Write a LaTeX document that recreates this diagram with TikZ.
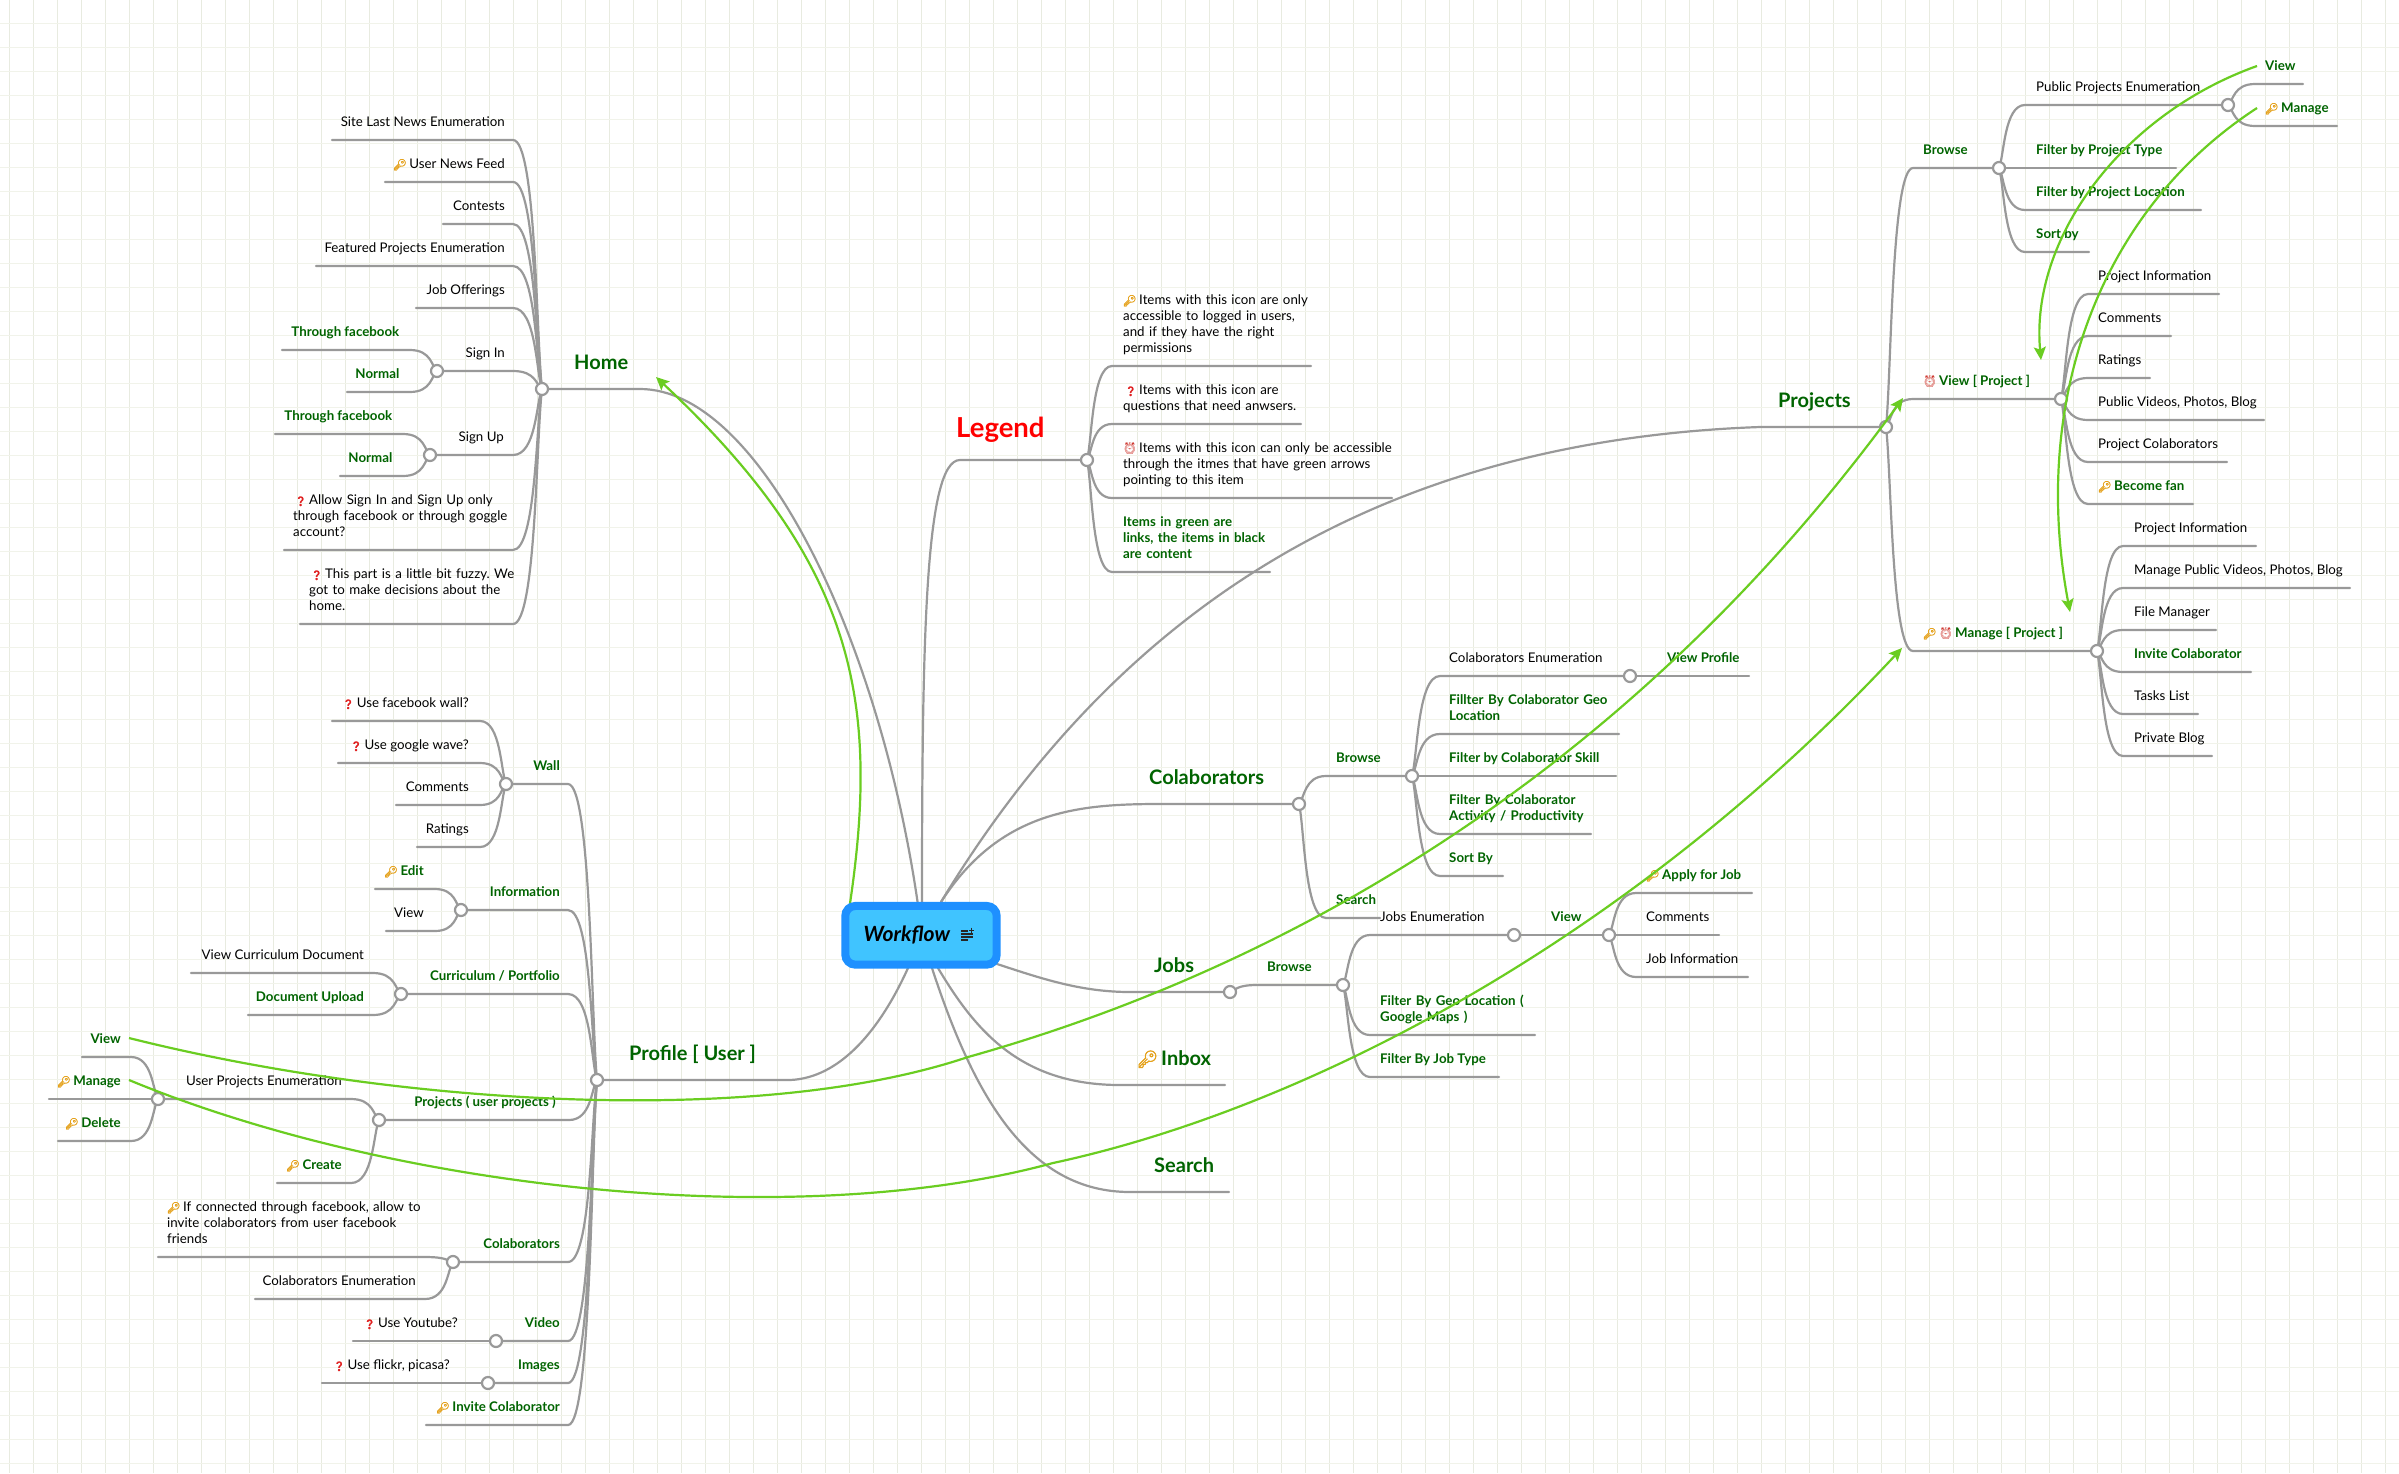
\documentclass[tikz,border=0pt]{standalone}
\usepackage{fontspec}
\setmainfont{Lato}
\newfontfamily\emo[FakeBold=2.2]{Noto Emoji}
\newfontfamily\emoq[FakeBold=1.6]{Noto Emoji}
\newfontfamily\emoc{Noto Emoji}
\usetikzlibrary{arrows.meta,calc}
\frenchspacing
\definecolor{gv}{HTML}{E8EBE0}
\definecolor{gh}{HTML}{F1F3EA}
\definecolor{lineg}{HTML}{999999}
\definecolor{txtg}{HTML}{006400}
\definecolor{arrg}{HTML}{6ACD21}
\definecolor{rootb}{HTML}{1E90FF}
\definecolor{rootf}{HTML}{40C4FF}
\definecolor{keyc}{HTML}{E5A11A}
\definecolor{qc}{HTML}{E02020}
\definecolor{clk}{HTML}{CF3A32}
\newcommand\keyi{\makebox[16pt][l]{\hspace{-0.5pt}\fontsize{11}{16}\selectfont\emo\textcolor{keyc}{🔑}}}
\newcommand\keyb{\makebox[24pt][l]{\hspace{-0.5pt}\fontsize{17}{24}\selectfont\emo\textcolor{keyc}{🔑}}}
\newcommand\qi{\makebox[16pt][l]{\hspace{1.5pt}\fontsize{9.5}{16}\selectfont\emoq\textcolor{qc}{❓}}}
\newcommand\clki{\makebox[16pt][l]{\hspace{-0.5pt}\fontsize{11.5}{16}\selectfont\emoc\textcolor{clk}{⏰}}}
\pgfdeclarelayer{gridl}
\pgfdeclarelayer{bg}
\pgfsetlayers{gridl,bg,main}
\tikzset{
 x=1pt,y=-1pt,
 branch/.style={draw=lineg,line width=2.2pt,line cap=round},
 junc/.style={circle,draw=lineg,fill=white,line width=2.2pt,minimum size=12pt,inner sep=0pt},
 base/.style={inner sep=0pt,font=\fontsize{13.3}{16}\selectfont,text=black},
 bl/.style={base,anchor=base west},
 br/.style={base,anchor=base east},
 gl/.style={bl,text=txtg,font=\fontsize{13.3}{16}\selectfont\bfseries},
 gr/.style={br,text=txtg,font=\fontsize{13.3}{16}\selectfont\bfseries},
 ml/.style={text width=#1pt,align=left},
 hd/.style={inner sep=0pt,anchor=base west,text=txtg,font=\fontsize{20}{24}\selectfont\bfseries},
 link/.style={draw=arrg,line width=2.2pt,-{Stealth[length=13pt,width=12pt,inset=2.5pt]}},
 root/.style={draw=rootb,fill=rootf,line width=8pt,rounded corners=10pt,minimum width=151.4pt,minimum height=58.7pt,inner sep=0pt,text width=115pt,align=left,font=\fontsize{21}{24}\selectfont\bfseries\itshape}
}
\newcommand\br[3]{\begin{pgfonlayer}{bg}\draw[branch] let \p1=(#1.center), \p2=(#2), \n1={#3pt+.8*(\x1-#3pt)}, \n2={\y1+.2*(\y2-\y1)} in (#2) -- (#3pt,\y2) .. controls (\n1,\y2) and (\n1,\n2) .. (#1.center);\end{pgfonlayer}}
\newcommand\kid[8]{\coordinate (#2-f) at (#3,#5); \node[#7] (#2) at (#6,#5-13.5) {#8}; \br{#1}{#2-f}{#4}}
\newcommand\jn[3]{\node[junc] (#1) at (#2,#3) {};}
\begin{document}
\begin{tikzpicture}
\useasboundingbox (0,0) rectangle (2399,1473);
\begin{pgfonlayer}{gridl}
\fill[white] (0,0) rectangle (2399,1473);
\foreach \k in {0,...,99} \draw[gv,line width=1pt] ({9.5+24*\k},0) -- ({9.5+24*\k},1473);
\foreach \k in {0,...,60} \draw[gh,line width=1pt] (0,{23.5+24*\k}) -- (2399,{23.5+24*\k});
\end{pgfonlayer}

% junctions
\jn{H}{542}{389} \jn{Hin}{437}{371} \jn{Hup}{430}{455}
\jn{L}{1087}{460}
\jn{P}{1886}{427} \jn{Pb}{1999}{168} \jn{Pbe}{2228}{105} \jn{Pv}{2061}{399} \jn{Pm}{2097}{651}
\jn{C}{1299}{804} \jn{Cb}{1412}{776} \jn{Ce}{1630}{676}
\jn{J}{1230}{992} \jn{Jb}{1343}{985} \jn{Je}{1514}{935} \jn{Jv}{1609}{935}
\jn{R}{597}{1080} \jn{Rw}{506}{784} \jn{Ri}{461}{910} \jn{Rc}{401}{994} \jn{Rp}{379}{1120} \jn{Rpe}{158}{1099}
\jn{Rco}{453}{1262} \jn{Rv}{496}{1341} \jn{Rim}{488}{1383}

% HOME
\node[hd] (tHome) at (574,369) {Home};
\kid{H}{h1}{332}{513}{140}{505}{br}{Site Last News Enumeration}
\kid{H}{h2}{385}{513}{182}{505}{br}{\keyi User News Feed}
\kid{H}{h3}{443}{513}{224}{505}{br}{Contests}
\kid{H}{h4}{316}{513}{266}{505}{br}{Featured Projects Enumeration}
\kid{H}{h5}{416}{513}{308}{505}{br}{Job Offerings}
\node[br] (hin) at (505,357.5) {Sign In};
\br{H}{Hin}{513}
\kid{Hin}{hi1}{282}{410}{350}{399.5}{gr}{Through facebook}
\kid{Hin}{hi2}{347}{410}{392}{399.5}{gr}{Normal}
\node[br] (hup) at (504,441.5) {Sign Up};
\br{H}{Hup}{513}
\kid{Hup}{hu1}{275}{403}{434}{392.5}{gr}{Through facebook}
\kid{Hup}{hu2}{340}{403}{476}{392.5}{gr}{Normal}
\kid{H}{h6}{284}{513}{550}{293}{bl,ml=240,yshift=32pt}{\qi Allow Sign In and Sign Up only\\through facebook or through goggle\\account?}
\kid{H}{h7}{300}{513}{624}{309}{bl,ml=240,yshift=32pt}{\qi This part is a little bit fuzzy. We\\got to make decisions about the\\home.}

% LEGEND
\node[hd,text=red,font=\fontsize{27.5}{30}\selectfont\bfseries] (tLegend) at (956,437) {Legend};
\kid{L}{l1}{1311}{1112}{366}{1123}{bl,ml=240,yshift=48pt}{\keyi Items with this icon are only\\accessible to logged in users,\\and if they have the right\\permissions}
\kid{L}{l2}{1301}{1112}{424}{1123}{bl,ml=240,yshift=16pt}{\qi Items with this icon are\\questions that need anwsers.}
\kid{L}{l3}{1392}{1112}{498}{1123}{bl,ml=300,yshift=32pt}{\clki Items with this icon can only be accessible\\through the itmes that have green arrows\\pointing to this item}
\kid{L}{l4}{1270}{1112}{572}{1123}{gl,ml=200,yshift=32pt}{Items in green are\\links, the items in black\\are content}

% PROJECTS
\node[hd] (tProjects) at (1778,407) {Projects};
\node[gl] (pb) at (1923,154.5) {Browse};
\br{P}{Pb}{1913}
\br{Pb}{Pbe}{2025}
\node[bl] (pbe) at (2036,91.5) {Public Projects Enumeration};
\kid{Pbe}{pe1}{2303}{2255}{84}{2265}{gl}{View}
\kid{Pbe}{pe2}{2337}{2255}{126}{2265}{gl}{\keyi Manage}
\kid{Pb}{pb2}{2176}{2025}{168}{2036}{gl}{Filter by Project Type}
\kid{Pb}{pb3}{2201}{2025}{210}{2036}{gl}{Filter by Project Location}
\kid{Pb}{pb4}{2089}{2025}{252}{2036}{gl}{Sort by}
\node[gl] (pv) at (1923,385.5) {\clki View [ Project ]};
\br{P}{Pv}{1913}
\kid{Pv}{pv1}{2219}{2088}{294}{2098}{bl}{Project Information}
\kid{Pv}{pv2}{2171}{2088}{336}{2098}{bl}{Comments}
\kid{Pv}{pv3}{2150}{2088}{378}{2098}{bl}{Ratings}
\kid{Pv}{pv4}{2264}{2088}{420}{2098}{bl}{Public Videos, Photos, Blog}
\kid{Pv}{pv5}{2227}{2088}{462}{2098}{bl}{Project Colaborators}
\kid{Pv}{pv6}{2193}{2088}{504}{2098}{gl}{\keyi Become fan}
\node[gl] (pm) at (1923,637.5) {\keyi\clki Manage [ Project ]};
\br{P}{Pm}{1913}
\kid{Pm}{pm1}{2256}{2123}{546}{2134}{bl}{Project Information}
\kid{Pm}{pm2}{2350}{2123}{588}{2134}{bl}{Manage Public Videos, Photos, Blog}
\kid{Pm}{pm3}{2216}{2123}{630}{2134}{bl}{File Manager}
\kid{Pm}{pm4}{2251}{2123}{672}{2134}{gl}{Invite Colaborator}
\kid{Pm}{pm5}{2198}{2123}{714}{2134}{bl}{Tasks List}
\kid{Pm}{pm6}{2212}{2123}{756}{2134}{bl}{Private Blog}

% COLABORATORS
\node[hd] (tColab) at (1149,784) {Colaborators};
\node[gl] (cb) at (1336,762.5) {Browse};
\br{C}{Cb}{1326}
\kid{C}{cs}{1380}{1326}{918}{1336}{gl}{Search}
\br{Cb}{Ce}{1440}
\node[bl] (ce) at (1449,662.5) {Colaborators Enumeration};
\coordinate (cef) at (1749,676);
\node[gl] (cvp) at (1667,662.5) {View Profile};
\begin{pgfonlayer}{bg}\draw[branch] (Ce) -- (cef);\end{pgfonlayer}
\kid{Cb}{cb2}{1619}{1440}{734}{1449}{gl,ml=170,yshift=16pt}{Fillter By Colaborator Geo\\Location}
\kid{Cb}{cb3}{1616}{1440}{776}{1449}{gl}{Filter by Colaborator Skill}
\kid{Cb}{cb4}{1591}{1440}{834}{1449}{gl,ml=170,yshift=16pt}{Filter By Colaborator\\Activity / Productivity}
\kid{Cb}{cb5}{1503}{1440}{876}{1449}{gl}{Sort By}

% JOBS
\node[hd] (tJobs) at (1154,972) {Jobs};
\node[gl] (jb) at (1267,971.5) {Browse};
\br{J}{Jb}{1257}
\br{Jb}{Je}{1370}
\node[bl] (je) at (1380,921.5) {Jobs Enumeration};
\node[gl] (jv) at (1551,921.5) {View};
\begin{pgfonlayer}{bg}\draw[branch] (Je) -- (Jv);\end{pgfonlayer}
\kid{Jv}{jv1}{1752}{1636}{893}{1646}{gl}{\keyi Apply for Job}
\kid{Jv}{jv2}{1719}{1636}{935}{1646}{bl}{Comments}
\kid{Jv}{jv3}{1748}{1636}{977}{1646}{bl}{Job Information}
\kid{Jb}{jb2}{1535}{1370}{1035}{1380}{gl,ml=170,yshift=16pt}{Filter By Geo Location (\\Google Maps )}
\kid{Jb}{jb3}{1499}{1370}{1077}{1380}{gl}{Filter By Job Type}

% INBOX, SEARCH
\node[hd] (tInbox) at (1137,1065) {\keyb Inbox};
\coordinate (ibf) at (1225,1085);
\node[hd] (tSearch) at (1154,1172) {Search};
\coordinate (sef) at (1229,1192);

% PROFILE
\node[hd] (tProfile) at (629,1060) {Profile [ User ]};
\node[gr] (rw) at (560,770.5) {Wall};
\br{R}{Rw}{568}
\kid{Rw}{w1}{332}{480}{721}{469}{br}{\qi Use facebook wall?}
\kid{Rw}{w2}{338}{480}{763}{469}{br}{\qi Use google wave?}
\kid{Rw}{w3}{396}{480}{805}{469}{br}{Comments}
\kid{Rw}{w4}{417}{480}{847}{469}{br}{Ratings}
\node[gr] (ri) at (560,896.5) {Information};
\br{R}{Ri}{568}
\kid{Ri}{i1}{375}{435}{889}{424}{gr}{\keyi Edit}
\kid{Ri}{i2}{386}{435}{931}{424}{br}{View}
\node[gr] (rc) at (560,980.5) {Curriculum / Portfolio};
\br{R}{Rc}{568}
\kid{Rc}{c1}{191}{373}{973}{364}{br}{View Curriculum Document}
\kid{Rc}{c2}{248}{373}{1015}{364}{gr}{Document Upload}
\node[gr] (rp) at (556,1106.5) {Projects ( user projects )};
\br{R}{Rp}{569}
\br{Rp}{Rpe}{351}
\node[br] (rpe) at (342,1085.5) {User Projects Enumeration};
\kid{Rpe}{e1}{82}{131}{1057}{121}{gr}{View}
\kid{Rpe}{e2}{49}{131}{1099}{121}{gr}{\keyi Manage}
\kid{Rpe}{e3}{58}{131}{1141}{121}{gr}{\keyi Delete}
\kid{Rp}{p2}{277}{351}{1183}{342}{gr}{\keyi Create}
\node[gr] (rco) at (560,1248.5) {Colaborators};
\br{R}{Rco}{568}
\kid{Rco}{co1}{158}{425}{1257}{167}{bl,ml=280,yshift=32pt}{\keyi If connected through facebook, allow to\\invite colaborators from user facebook\\friends}
\kid{Rco}{co2}{255}{425}{1299}{416}{br}{Colaborators Enumeration}
\node[gr] (rv) at (560,1327.5) {Video};
\br{R}{Rv}{568}
\coordinate (rvf) at (353,1341);
\node[br] (rvq) at (458,1327.5) {\qi Use Youtube?};
\begin{pgfonlayer}{bg}\draw[branch] (Rv) -- (rvf);\end{pgfonlayer}
\node[gr] (rim) at (560,1369.5) {Images};
\br{R}{Rim}{568}
\coordinate (rimf) at (322,1383);
\node[br] (rimq) at (450,1369.5) {\qi Use flickr, picasa?};
\begin{pgfonlayer}{bg}\draw[branch] (Rim) -- (rimf);\end{pgfonlayer}
\kid{R}{rinv}{426}{568}{1425}{560}{gr}{\keyi Invite Colaborator}

% trunks to root
\coordinate (rtH) at (918,905);
\coordinate (rtL) at (922,905);
\coordinate (rtP) at (941,902);
\coordinate (rtJ) at (997,964);
\coordinate (rtI) at (938,968);
\coordinate (rtS) at (932,968);
\coordinate (rtR) at (908,968);
\begin{pgfonlayer}{bg}
\draw[branch] (H) -- (640,389) .. controls (760,389) and (880,640) .. (rtH);
\draw[branch] (L) -- (960,460) .. controls (925,460) and (922,640) .. (rtL);
\draw[branch] (P) -- (1760,427) .. controls (1400,440) and (1130,590) .. (rtP);
\draw[branch] (C) -- (1160,804) .. controls (1080,804) and (1000,810) .. (rtP);
\draw[branch] (J) -- (1130,992) .. controls (1080,992) and (1040,978) .. (rtJ);
\draw[branch] (ibf) -- (1120,1085) .. controls (1020,1085) and (975,1030) .. (rtI);
\draw[branch] (sef) -- (1130,1192) .. controls (1030,1192) and (975,1100) .. (rtS);
\draw[branch] (R) -- (790,1080) .. controls (840,1078) and (880,1030) .. (rtR);
\end{pgfonlayer}

% green links
\coordinate (a1s) at (845,935);   \coordinate (a1t) at (656,377);
\coordinate (a2s) at (129,1038);  \coordinate (a2t) at (1903,398);
\coordinate (a3s) at (129,1080);  \coordinate (a3t) at (1902,648);
\coordinate (a4s) at (2257,66);   \coordinate (a4t) at (2041,360);
\coordinate (a5s) at (2257,108);  \coordinate (a5t) at (2070,612);
\draw[link] (a1s) .. controls (883,710) and (862,570) .. (a1t);
\draw[link] (a2s) .. controls (400,1106) and (760,1127) .. (968,1057) .. controls (1250,978) and (1610,800) .. (a2t);
\draw[link] (a3s) .. controls (400,1192) and (800,1232) .. (1053,1163) .. controls (1300,1110) and (1625,945) .. (a3t);
\draw[link] (a4s) .. controls (2120,115) and (2030,240) .. (a4t);
\draw[link] (a5s) .. controls (2100,210) and (2030,400) .. (a5t);

% root
\node[root] (root) at (921,935.3) {\raisebox{-1.5pt}{Workflow}};
\draw[black!85,line width=1.1pt] (961,931) -- (968,931) (961,934) -- (972.5,934) (961,937) -- (972.5,937) (961,940) -- (968,940);
\draw[black!85,line width=1pt] (969,930) -- (974,930) (971.5,927.5) -- (971.5,932.5);
\end{tikzpicture}
\end{document}
